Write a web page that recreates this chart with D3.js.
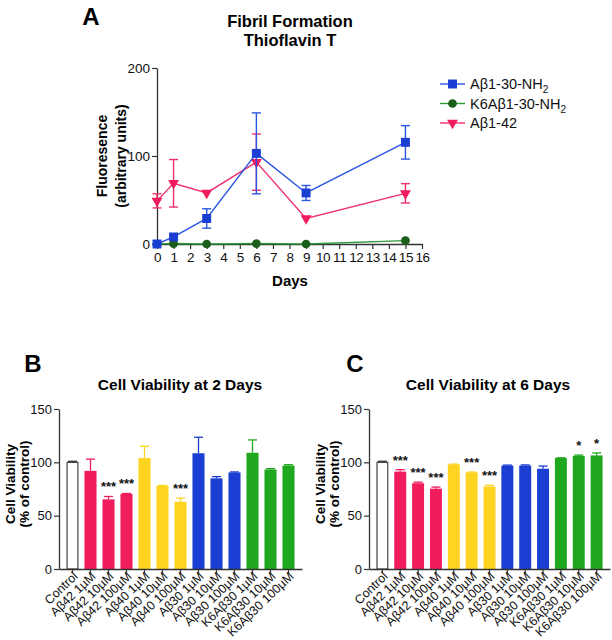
<!DOCTYPE html>
<html>
<head>
<meta charset="utf-8">
<script src="https://cdn.jsdelivr.net/npm/d3@7"></script>
<style>
  html, body { margin: 0; padding: 0; background: #fff; }
  svg { display: block; font-family: Arial, "Liberation Sans", Helvetica, sans-serif; }
</style>
</head>
<body>
<svg id="chart" width="612" height="640"></svg>
<script>
// ---------- Panel A data ----------
const days = [0, 1, 3, 6, 9, 15];
const ab30Values = [0, 8, 29, 103, 58, 115.5];
const ab30Errors = [1, 3, 11, 46, 8.5, 19];
const k6Values = [0, 0.5, 0, 0.5, 0, 3.8];
const k6Errors = [0, 0, 0, 0, 0, 0];
const ab42Values = [49, 69, 58, 93, 29, 57.6];
const ab42Errors = [8, 27, 1, 32, 1, 11];
const seriesNames = ["A\u03b21-30-NH2", "K6A\u03b21-30-NH2", "A\u03b21-42"];
const dayTicks = d3.range(0, 17);
const fluorTicks = [0, 100, 200];

// ---------- Panels B & C data ----------
const categories = ["Control", "A\u03b242 1\u00b5M", "A\u03b242 10\u00b5M", "A\u03b242 100\u00b5M",
  "A\u03b240 1\u00b5M", "A\u03b240 10\u00b5M", "A\u03b240 100\u00b5M",
  "A\u03b230 1\u00b5M", "A\u03b230 10\u00b5M", "A\u03b230 100\u00b5M",
  "K6A\u03b230 1\u00b5M", "K6A\u03b230 10\u00b5M", "K6A\u03b230 100\u00b5M"];
const groups = ["control", "ab42", "ab42", "ab42", "ab40", "ab40", "ab40", "ab30", "ab30", "ab30", "k6", "k6", "k6"];
const day2Values = [100, 92, 65.3, 70.4, 104, 78, 63, 108.5, 85, 90.5, 109, 93.3, 97];
const day2Errors = [1, 11, 2.7, 0.4, 11, 0.3, 3.5, 15, 1.6, 0.5, 12, 0.8, 0.8];
const day2Signif = ["", "", "***", "***", "", "", "***", "", "", "", "", "", ""];
const day6Values = [100, 91.3, 80.4, 75.3, 98, 90.5, 77.3, 97, 97, 94, 104, 106, 106.5];
const day6Errors = [1, 1.8, 1, 1.5, 0.3, 0.4, 1.2, 0.4, 0.6, 2.5, 0.3, 0.8, 2.3];
const day6Signif = ["", "***", "***", "***", "", "***", "***", "", "", "", "", "*", "*"];
const viabilityTicks = [0, 50, 100, 150];

const groupColors = { control: "#ffffff", ab42: "#f01c5c", ab40: "#ffd420", ab30: "#1a3ed2", k6: "#1fa81f" };
const FONT = "Arial, 'Liberation Sans', Helvetica, sans-serif";
const AXIS_COLOR = "#333";

const svg = d3.select("#chart");

function styleAxis(g, fontSize) {
  g.selectAll("path.domain").attr("stroke", AXIS_COLOR).attr("stroke-width", 1.3);
  g.selectAll(".tick line").attr("stroke", AXIS_COLOR).attr("stroke-width", 1.2);
  g.selectAll(".tick text").attr("fill", "#111").attr("font-size", fontSize).attr("font-family", FONT);
}

// ================= Panel A =================
(function panelA() {
  const x = d3.scaleLinear().domain([0, 16]).range([157, 422]);
  const y = d3.scaleLinear().domain([0, 200]).range([244, 68]);

  svg.append("text").attr("x", 91).attr("y", 25).attr("text-anchor", "middle")
    .attr("font-size", 24).attr("font-weight", "bold").text("A");
  svg.append("text").attr("x", 290).attr("y", 27).attr("text-anchor", "middle")
    .attr("font-size", 16.5).attr("font-weight", "bold").text("Fibril Formation");
  svg.append("text").attr("x", 290).attr("y", 46).attr("text-anchor", "middle")
    .attr("font-size", 16.5).attr("font-weight", "bold").text("Thioflavin T");

  const yAx = svg.append("g").attr("transform", "translate(157,0)")
    .call(d3.axisLeft(y).tickValues(fluorTicks).tickSize(5).tickSizeOuter(0).tickPadding(2));
  styleAxis(yAx, 13.5);
  const xAx = svg.append("g").attr("transform", "translate(0,244)")
    .call(d3.axisBottom(x).tickValues(dayTicks).tickSize(5).tickSizeOuter(0).tickPadding(3));
  styleAxis(xAx, 13.5);
  xAx.selectAll(".tick text").attr("letter-spacing", "-0.4px");

  svg.append("text").attr("x", 290).attr("y", 286).attr("text-anchor", "middle")
    .attr("font-size", 15).attr("font-weight", "bold").text("Days");
  const yl = svg.append("text").attr("transform", "translate(0,156) rotate(-90)")
    .attr("text-anchor", "middle").attr("font-size", 14).attr("font-weight", "bold");
  yl.append("tspan").attr("x", 0).attr("y", 107).text("Fluoresence");
  yl.append("tspan").attr("x", 0).attr("y", 126).text("(arbitrary units)");

  const series = [
    { name: seriesNames[2], values: ab42Values, errors: ab42Errors, line: "#f0306a", fill: "#f01c5c", shape: "tri" },
    { name: seriesNames[1], values: k6Values, errors: k6Errors, line: "#2f9a3a", fill: "#1b5e1b", shape: "circle" },
    { name: seriesNames[0], values: ab30Values, errors: ab30Errors, line: "#2a55e0", fill: "#1a3ed2", shape: "square" }
  ];
  const line = d3.line().x((d, i) => x(days[i])).y(d => y(d));
  const symbolOf = s => s === "tri" ? d3.symbolTriangle : (s === "circle" ? d3.symbolCircle : d3.symbolSquare);
  const sizeOf = s => s === "tri" ? 52 : (s === "circle" ? 60 : 80);

  series.forEach(s => {
    const g = svg.append("g");
    g.append("path").datum(s.values).attr("d", line).attr("fill", "none")
      .attr("stroke", s.line).attr("stroke-width", 1.4);
    s.values.forEach((v, i) => {
      const e = s.errors[i];
      if (e > 1.5) {
        const cx = x(days[i]);
        g.append("line").attr("x1", cx).attr("x2", cx).attr("y1", y(v + e)).attr("y2", y(v - e))
          .attr("stroke", s.line).attr("stroke-width", 1.4);
        [v + e, v - e].forEach(ev => g.append("line").attr("x1", cx - 4.5).attr("x2", cx + 4.5)
          .attr("y1", y(ev)).attr("y2", y(ev)).attr("stroke", s.line).attr("stroke-width", 1.4));
      }
      g.append("path").attr("d", d3.symbol(symbolOf(s.shape), sizeOf(s.shape))())
        .attr("transform", `translate(${x(days[i])},${y(v)})` + (s.shape === "tri" ? " rotate(180)" : ""))
        .attr("fill", s.fill);
    });
  });

  // legend
  const legendItems = [series[2], series[1], series[0]];
  legendItems.forEach((s, i) => {
    const ly = 84 + i * 19.5;
    const g = svg.append("g");
    g.append("line").attr("x1", 440).attr("x2", 465).attr("y1", ly).attr("y2", ly)
      .attr("stroke", s.line).attr("stroke-width", 1.4);
    g.append("path").attr("d", d3.symbol(symbolOf(s.shape), sizeOf(s.shape))())
      .attr("transform", `translate(452.5,${ly})` + (s.shape === "tri" ? " rotate(180)" : ""))
      .attr("fill", s.fill);
    const t = g.append("text").attr("x", 470).attr("y", ly + 5).attr("font-size", 14.5).attr("fill", "#111");
    const m = s.name.match(/^(.*NH)2$/);
    if (m) {
      t.append("tspan").text(m[1]);
      t.append("tspan").attr("font-size", 10).attr("dy", 4).text("2");
    } else {
      t.text(s.name);
    }
  });
})();

// ================= Panels B & C =================
function barPanel(opts) {
  const { x0, x1, letter, letterX, title, titleX, values, errors, signif } = opts;
  const y = d3.scaleLinear().domain([0, 150]).range([569, 409]);
  const x = d3.scaleBand().domain(categories).range([x0, x1]).paddingInner(0.33).paddingOuter(0.415);

  svg.append("text").attr("x", letterX).attr("y", 372).attr("text-anchor", "middle")
    .attr("font-size", 24).attr("font-weight", "bold").text(letter);
  svg.append("text").attr("x", titleX).attr("y", 390).attr("text-anchor", "middle")
    .attr("font-size", 15.5).attr("font-weight", "bold").text(title);

  const yl = svg.append("text").attr("transform", `translate(0,484) rotate(-90)`)
    .attr("text-anchor", "middle").attr("font-size", 13.5).attr("font-weight", "bold");
  yl.append("tspan").attr("x", 0).attr("y", x0 - 44).text("Cell Viability");
  yl.append("tspan").attr("x", 0).attr("y", x0 - 30).text("(% of control)");

  const g = svg.append("g");
  categories.forEach((c, i) => {
    const col = groupColors[groups[i]];
    const stroke = groups[i] === "control" ? "#333" : col;
    const v = values[i], e = errors[i];
    const bx = x(c), bw = x.bandwidth(), cx = bx + bw / 2;
    g.append("line").attr("x1", cx).attr("x2", cx).attr("y1", y(v)).attr("y2", y(v + e))
      .attr("stroke", stroke).attr("stroke-width", 1.3);
    g.append("line").attr("x1", cx - 4.5).attr("x2", cx + 4.5).attr("y1", y(v + e)).attr("y2", y(v + e))
      .attr("stroke", stroke).attr("stroke-width", 1.3);
    g.append("rect").attr("x", bx + (groups[i] === "control" ? 0.6 : 0)).attr("y", y(v))
      .attr("width", bw - (groups[i] === "control" ? 1.2 : 0)).attr("height", y(0) - y(v))
      .attr("fill", col).attr("stroke", groups[i] === "control" ? "#333" : "none")
      .attr("stroke-width", 1.1);
    if (signif[i]) {
      g.append("text").attr("x", cx).attr("y", y(v + e) - 5).attr("text-anchor", "middle")
        .attr("font-size", 13).attr("font-weight", "bold").attr("fill", "#111").text(signif[i]);
    }
  });

  const yAx = svg.append("g").attr("transform", `translate(${x0},0)`)
    .call(d3.axisLeft(y).tickValues(viabilityTicks).tickSize(5).tickSizeOuter(0).tickPadding(2));
  styleAxis(yAx, 13);
  const xAx = svg.append("g").attr("transform", "translate(0,569)")
    .call(d3.axisBottom(x).tickSize(4).tickSizeOuter(0).tickPadding(2));
  styleAxis(xAx, 12.5);
  xAx.selectAll(".tick text")
    .attr("text-anchor", "end")
    .attr("transform", "translate(3,5) rotate(-44)")
    .attr("dy", "0.35em").attr("x", 0).attr("y", 0);
}

barPanel({ x0: 59, x1: 302, letter: "B", letterX: 33, title: "Cell Viability at 2 Days", titleX: 180,
  values: day2Values, errors: day2Errors, signif: day2Signif });
barPanel({ x0: 369, x1: 610, letter: "C", letterX: 355, title: "Cell Viability at 6 Days", titleX: 488,
  values: day6Values, errors: day6Errors, signif: day6Signif });
</script>
</body>
</html>
